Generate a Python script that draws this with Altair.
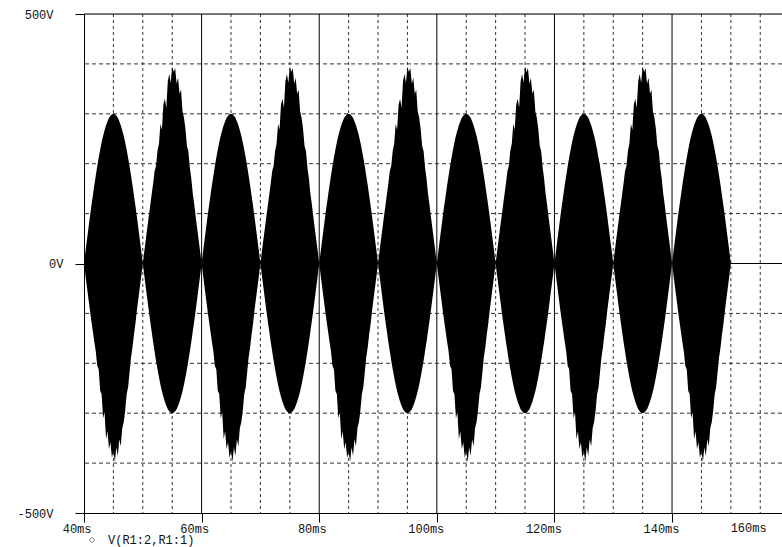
import altair as alt
import pandas as pd

# ---- data ----
series_label = ["V(R1:2,R1:1)"]
lobe_start_ms = [40, 50, 60, 70, 80, 90, 100, 110, 120, 130, 140]
jagged_side = ["lower", "upper", "lower", "upper", "lower", "upper",
               "lower", "upper", "lower", "upper", "lower"]
sample_step_ms = 0.25

# smooth lobe envelope (V), 0..10 ms in 0.25 ms steps
smooth_env = [0, 24, 47, 70, 93, 115, 136, 157, 176, 195, 212, 228, 243, 256, 267,
              277, 285, 292, 296, 299, 300, 299, 296, 292, 285, 277, 267, 256, 243,
              228, 212, 195, 176, 157, 136, 115, 93, 70, 47, 24, 0]
# jagged lobe envelopes (V)
jag_env_a = [0, 24, 47, 70, 93, 115, 136, 157, 176, 205, 212, 255, 262, 310, 298,
             352, 336, 372, 358, 390, 376, 398, 368, 386, 352, 366, 330, 318, 295,
             262, 248, 218, 188, 168, 142, 120, 93, 70, 47, 24, 0]
jag_env_b = [0, 24, 47, 70, 93, 115, 138, 160, 185, 196, 226, 240, 280, 268, 318,
             330, 312, 365, 380, 362, 395, 384, 392, 360, 372, 340, 348, 305, 292,
             270, 236, 225, 192, 170, 140, 118, 93, 70, 47, 24, 0]

x_tick_values = [40, 60, 80, 100, 120, 140]
x_edge_tick = [160]
x_edge_label = ["160ms"]
x_minor_grid = [45, 50, 55, 65, 70, 75, 85, 90, 95, 105, 110, 115, 125, 130, 135,
                145, 150, 155]
x_major_grid = [60, 80, 100, 120, 140]
y_tick_values = [-500, 0, 500]
y_minor_grid = [-400, -300, -200, -100, 100, 200, 300, 400]
y_major_grid = [0, 500]

# ---- build table ----
rows = []
n = len(smooth_env)
for i, t0 in enumerate(lobe_start_ms):
    jag = jag_env_a if i % 2 == 0 else jag_env_b
    for k in range(n):
        if k == n - 1 and i < len(lobe_start_ms) - 1:
            continue
        t = t0 + k * sample_step_ms
        if jagged_side[i] == "upper":
            up, lo = jag[k], -smooth_env[k]
        else:
            up, lo = smooth_env[k], -jag[k]
        rows.append({"t": t, "upper": up, "lower": lo, "series": series_label[0]})
wave = pd.DataFrame(rows)

FONT = "Liberation Mono"
xscale = alt.Scale(domain=[40, 158.7], nice=False, zero=False)
yscale = alt.Scale(domain=[-500, 500], nice=False, zero=False)

xaxis = alt.Axis(
    values=x_tick_values, labelExpr="datum.value + 'ms'", title=None, grid=False,
    domainColor="black", tickColor="black", tickSize=9, labelFont=FONT,
    labelFontSize=12, labelColor="#111", labelAlign="right", labelOffset=7,
    labelPadding=1, labelOverlap=False, labelBound=False,
)
yaxis = alt.Axis(
    values=y_tick_values, labelExpr="datum.value + 'V'", title=None, grid=False,
    domainColor="black", tickColor="black", tickSize=9, labelFont=FONT,
    labelFontSize=12, labelColor="#111",
    labelPadding={"condition": {"test": "datum.value == 0", "value": 12}, "value": 22},
    labelOverlap=False,
)

vminor = alt.Chart(pd.DataFrame({"t": x_minor_grid})).mark_rule(
    color="#333", strokeWidth=1, strokeDash=[3, 3]).encode(
    x=alt.X("t:Q", scale=xscale, axis=xaxis))
vmajor = alt.Chart(pd.DataFrame({"t": x_major_grid})).mark_rule(
    color="black", strokeWidth=1).encode(x=alt.X("t:Q", scale=xscale))
hminor = alt.Chart(pd.DataFrame({"v": y_minor_grid})).mark_rule(
    color="#333", strokeWidth=1, strokeDash=[4, 3]).encode(
    y=alt.Y("v:Q", scale=yscale, axis=yaxis))
hmajor = alt.Chart(pd.DataFrame({"v": y_major_grid})).mark_rule(
    color="black", strokeWidth=1).encode(y=alt.Y("v:Q", scale=yscale))

edge_label = alt.Chart(pd.DataFrame({"t": x_edge_tick, "label": x_edge_label})).mark_text(
    align="right", baseline="top", dx=-23, dy=10, font=FONT, fontSize=12,
    color="#111").encode(
    x=alt.X("t:Q", scale=xscale),
    y=alt.datum(-500, scale=yscale),
    text="label:N",
)

legend_pts = alt.Chart(wave).mark_point(
    filled=False, color="#777", opacity=0, size=30, strokeWidth=1).encode(
    x=alt.X("t:Q", scale=xscale),
    y=alt.Y("upper:Q", scale=yscale),
    shape=alt.Shape("series:N",
                    scale=alt.Scale(domain=series_label, range=["diamond"]),
                    legend=alt.Legend(title=None, orient="none", legendX=2,
                                      legendY=520, padding=0, symbolSize=30,
                                      symbolOpacity=1, symbolStrokeColor="#777",
                                      symbolStrokeWidth=1, labelFont=FONT,
                                      labelFontSize=12, labelColor="#111",
                                      labelOffset=10)),
)

area = alt.Chart(wave).mark_area(color="black", opacity=1).encode(
    x=alt.X("t:Q", scale=xscale),
    y=alt.Y("upper:Q", scale=yscale),
    y2="lower:Q",
)

chart = alt.layer(vminor, vmajor, hminor, hmajor, legend_pts, area, edge_label).properties(
    width=698, height=499,
    autosize=alt.AutoSizeParams(type="none"),
    padding={"left": 84, "top": 14, "right": 0, "bottom": 34},
).configure_view(stroke=None).configure(background="white")

chart.save("out.html", embed_options={"renderer": "svg", "actions": False})
